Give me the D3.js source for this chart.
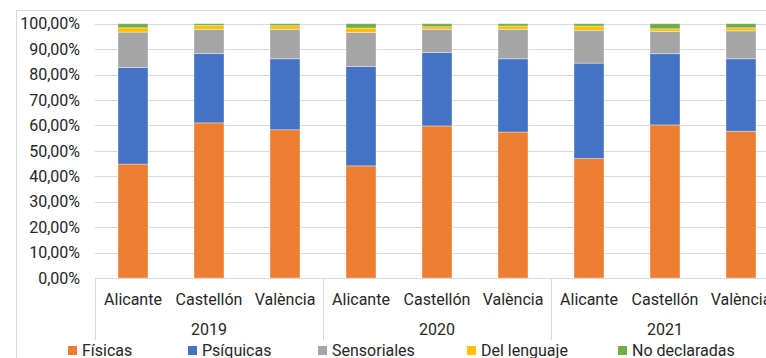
<!DOCTYPE html>
<html>
<head>
<meta charset="utf-8">
<script src="https://cdn.jsdelivr.net/npm/d3@7"></script>
<style>
html,body{margin:0;padding:0;background:#fff;}
svg{display:block;font-family:Roboto,"Noto Sans",sans-serif;}
</style>
</head>
<body>
<svg id="chart" width="766" height="358"></svg>
<script>
// ---- data ----
const categories = ["Alicante","Castellón","València","Alicante","Castellón","València","Alicante","Castellón","València"];
const years = ["2019","2020","2021"];
const seriesNames = ["Físicas","Psíquicas","Sensoriales","Del lenguaje","No declaradas"];
const fisicas      = [44.8, 61.0, 58.3, 44.1, 59.8, 57.4, 47.0, 60.2, 57.7];
const psiquicas    = [38.0, 27.3, 27.9, 39.1, 28.9, 28.8, 37.5, 28.0, 28.5];
const sensoriales  = [13.9,  9.5, 11.6, 13.4,  9.1, 11.6, 12.9,  8.8, 11.0];
const lenguaje     = [ 1.7,  1.5,  1.4,  1.7,  1.0,  1.3,  1.7,  1.0,  1.2];
const noDeclaradas = [ 1.6,  0.7,  0.8,  1.7,  1.2,  0.9,  0.9,  2.0,  1.6];
const yTicks = [0,0.1,0.2,0.3,0.4,0.5,0.6,0.7,0.8,0.9,1.0];
const colors = ["#ED7D31","#4472C4","#A5A5A5","#FFC000","#70AD47"];

(function(){
// ---- build table ----
const seriesArrays = [fisicas, psiquicas, sensoriales, lenguaje, noDeclaradas];
const keys = ["s0","s1","s2","s3","s4"];
const table = categories.map((c,i)=>{
  const row = {idx:i, cat:c};
  keys.forEach((k,j)=>row[k]=seriesArrays[j][i]/100);
  return row;
});
const stacked = d3.stack().keys(keys)(table);

const svg = d3.select("#chart");
const textColor = "#262626";
const gridColor = "#D9D9D9";

// chart frame
svg.append("rect").attr("x",16.5).attr("y",10.5).attr("width",800).attr("height",400)
  .attr("fill","none").attr("stroke",gridColor).attr("stroke-width",1);

const pLeft = 95, pRight = 95 + 76*9, pBottom = 278, pTop = 23.7;
const x = d3.scaleBand().domain(d3.range(categories.length)).range([pLeft,pRight])
  .paddingInner(46/76).paddingOuter(23/76);
const y = d3.scaleLinear().domain([0,1]).range([pBottom, pTop]);

const loc = d3.formatLocale({decimal:",",thousands:".",grouping:[3],currency:["","€"],percent:"%"});
const fmt = loc.format(".2%");

// gridlines
svg.append("g").selectAll("line").data(yTicks.filter(t=>t>0)).join("line")
  .attr("x1",pLeft).attr("x2",pRight)
  .attr("y1",d=>Math.round(y(d))+0.5).attr("y2",d=>Math.round(y(d))+0.5)
  .attr("stroke",gridColor).attr("stroke-width",1);

// y labels
svg.append("g").selectAll("text").data(yTicks).join("text")
  .attr("x",80).attr("y",d=>y(d)).attr("dy","0.36em")
  .attr("text-anchor","end").attr("font-size",16).attr("fill",textColor)
  .text(d=>fmt(d));

// bars
svg.append("g").selectAll("g").data(stacked).join("g")
  .attr("fill",(d,i)=>colors[i])
  .selectAll("rect").data(d=>d).join("rect")
  .attr("x",d=>x(d.data.idx)).attr("width",x.bandwidth())
  .attr("y",d=>y(d[1])).attr("height",d=>y(d[0])-y(d[1]))
  .attr("stroke","#fff").attr("stroke-opacity",0.45).attr("stroke-width",0.8);

// x axis baseline
svg.append("line").attr("x1",pLeft).attr("x2",pRight).attr("y1",pBottom+0.5).attr("y2",pBottom+0.5)
  .attr("stroke",gridColor).attr("stroke-width",1);

// group separators
const sepX = [0,3,6,9].map(i=> pLeft + (pRight-pLeft)/categories.length*i);
svg.append("g").selectAll("line").data(sepX).join("line")
  .attr("x1",d=>Math.round(d)+0.5).attr("x2",d=>Math.round(d)+0.5)
  .attr("y1",pBottom).attr("y2",340)
  .attr("stroke",gridColor).attr("stroke-width",1);

// category labels
svg.append("g").selectAll("text").data(categories).join("text")
  .attr("x",(d,i)=>x(i)+x.bandwidth()/2).attr("y",305)
  .attr("text-anchor","middle").attr("font-size",16).attr("fill",textColor)
  .text(d=>d);

// year labels
svg.append("g").selectAll("text").data(years).join("text")
  .attr("x",(d,i)=>x(i*3+1)+x.bandwidth()/2).attr("y",335)
  .attr("text-anchor","middle").attr("font-size",16).attr("fill",textColor)
  .text(d=>d);

// legend
const legendX = [68,188,318,467,618];
const lg = svg.append("g").selectAll("g").data(seriesNames).join("g")
  .attr("transform",(d,i)=>`translate(${legendX[i]},0)`);
lg.append("rect").attr("x",0).attr("y",346).attr("width",9).attr("height",9)
  .attr("fill",(d,i)=>colors[i]);
lg.append("text").attr("x",14).attr("y",355.5).attr("font-size",16).attr("fill",textColor)
  .text(d=>d);
})();
</script>
</body>
</html>
